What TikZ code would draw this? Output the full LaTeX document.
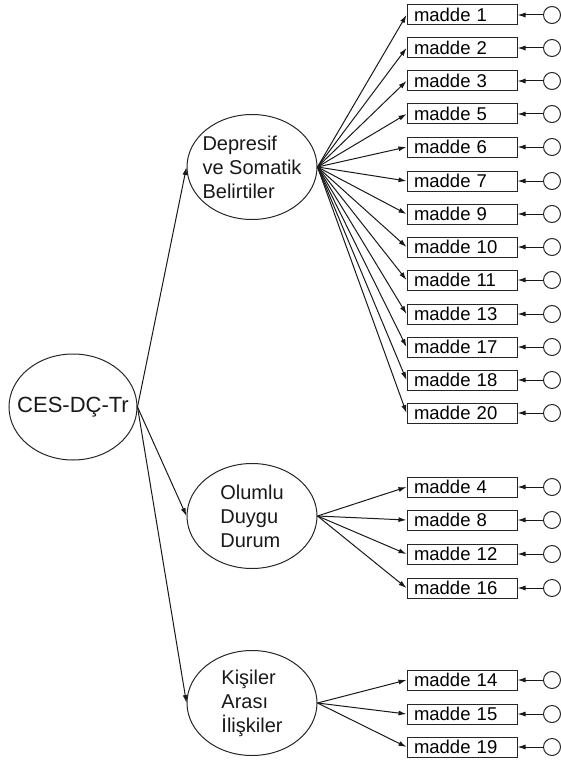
\documentclass[tikz,border=0pt]{standalone}
\usepackage{fontspec}
\setmainfont{Liberation Sans}
\usetikzlibrary{shapes.geometric,arrows.meta}
\tikzset{
  lat/.style={draw=black!85, line width=1pt, ellipse, minimum width=130pt, minimum height=105pt,
    inner sep=0pt},
  lattext/.style={align=left, inner sep=0pt, font=\fontsize{20}{24}\selectfont, text=black!90},
  item/.style={draw=black!85, line width=1pt, rectangle, minimum width=110pt, minimum height=20pt,
    inner sep=0pt, text width=96pt, align=left, font=\fontsize{18.5}{20}\selectfont, text=black},
  err/.style={draw=black!85, line width=1pt, circle, minimum size=17pt, inner sep=0pt},
  arr/.style={draw=black!90, line width=1pt, -{Latex[length=8pt,width=5pt]}},
}
\begin{document}
\begin{tikzpicture}[x=1pt,y=-1pt]
\useasboundingbox (0,0) rectangle (561,765);

% second-order factor
\node[lat, minimum width=128pt, minimum height=106pt] (ces) at (73,407) {};
\node[lattext, font=\fontsize{22}{26}\selectfont] (cestxt) at (ces.center) {CES-DÇ-Tr};

% first-order factors
\node[lat] (dep) at (252,167) {};
\node[lattext] (deptxt) at (dep.center) {Depresif\\ve Somatik\\Belirtiler};
\node[lat] (olu) at (252,516) {};
\node[lattext] (olutxt) at (olu.center) {Olumlu\\Duygu\\Durum};
\node[lat] (kis) at (252,703) {};
\node[lattext] (kistxt) at (kis.center) {Kişiler\\Arası\\İlişkiler};

\draw[arr] (ces.east) -- (dep.west);
\draw[arr] (ces.east) -- (olu.west);
\draw[arr] (ces.east) -- (kis.west);

% indicators with their error terms
\foreach \lbl/\yy/\fac in {1/15/dep, 2/48/dep, 3/81/dep, 5/114/dep, 6/147/dep, 7/181/dep,
    9/214/dep, 10/247/dep, 11/280/dep, 13/314/dep, 17/347/dep, 18/380/dep, 20/413/dep,
    4/487/olu, 8/520/olu, 12/554/olu, 16/588/olu,
    14/680/kis, 15/714/kis, 19/747/kis}{
  \node[item] (m\lbl) at (462,\yy) {madde \lbl};
  \node[err] (e\lbl) at (552,\yy) {};
  \draw[arr] (\fac.east) -- (m\lbl.west);
  \draw[arr] (e\lbl.west) -- (m\lbl.east);
}
\end{tikzpicture}
\end{document}
